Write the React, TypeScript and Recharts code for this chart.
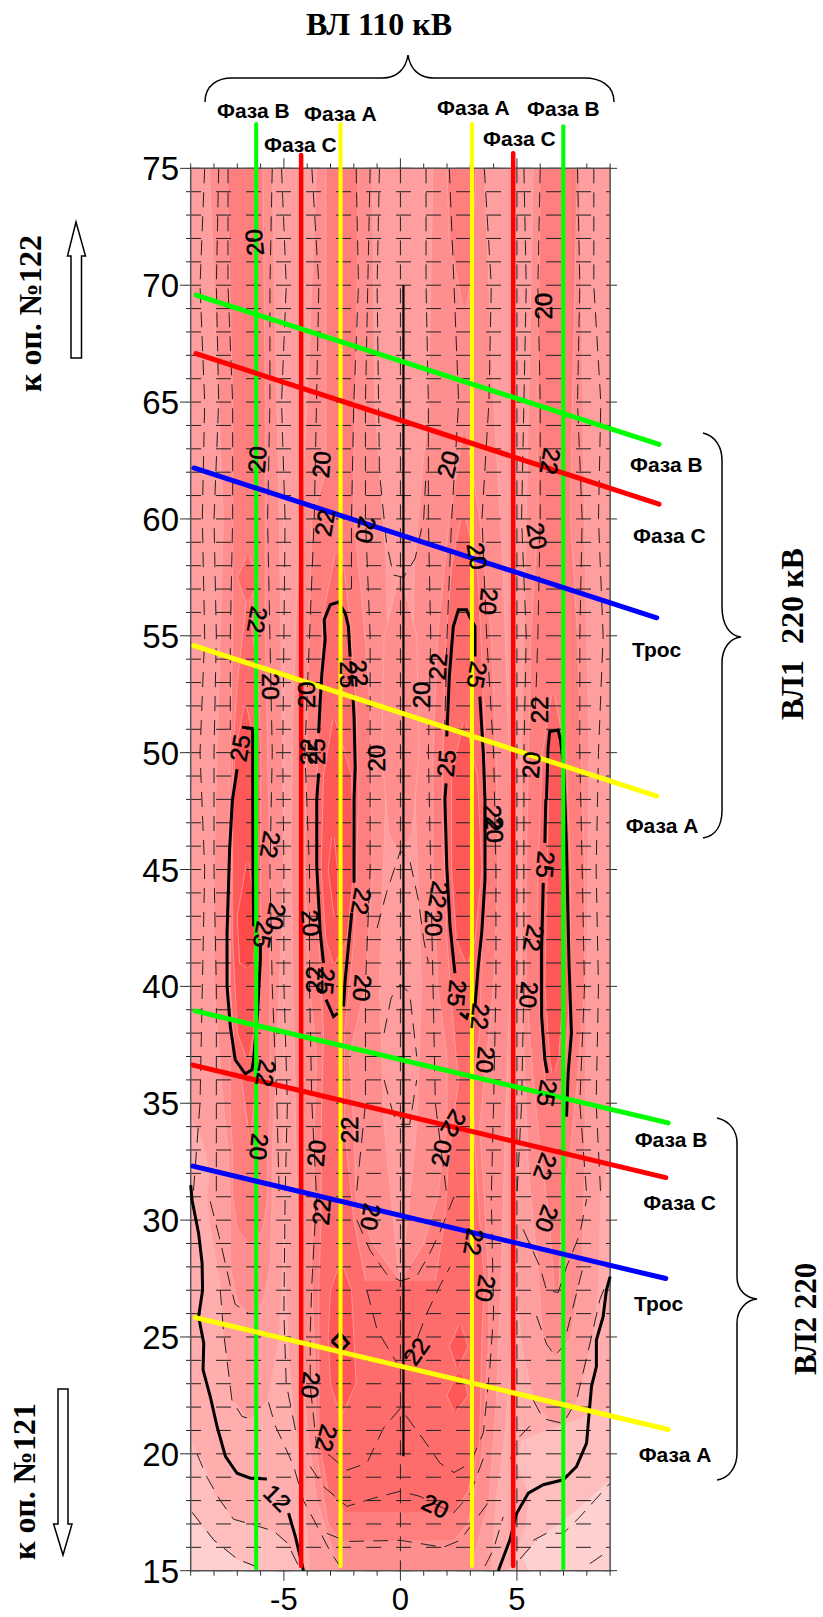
import React from "react";
import { ComposedChart, Area, Line, Scatter, XAxis, YAxis } from "recharts";

type Row = [number, number, number];
type Pt = [number, number];
type Lab = [number, number, string, number];

const yInts: number[] = [];
for (let v = 15; v <= 75; v++) yInts.push(v);
const xInts = [-9,-8,-7,-6,-5,-4,-3,-2,-1,0,1,2,3,4,5,6,7,8,9];
const xMajor = [-5, 0, 5];

// ---- filled bands: [y, left x, right x]
const C0 = "#FFD0D0", C1 = "#FFBEBE", C2 = "#FFADAD", C3 = "#FF9E9E", C4 = "#FF8E8E", C5 = "#FF7F7F", C6 = "#FF6C6C", C7 = "#FF5858", C8 = "#FF4A4A";

const base: Row[] = [[15,-9,9],[75,-9,9]];
const lvl1: Row[] = [[15,-6,5.5],[15.5,-7,5.2],[16.3,-8,5.8],[17.5,-9,7.4],[18.9,-9,9],[75,-9,9]];
const lvl2: Row[] = [[15,-4.2,4.6],[16.2,-4.9,5.1],[16.8,-5.6,5.3],[17.2,-7.16,5.4],[18.3,-8,5.5],[19.6,-8.44,5],[20.6,-9,5.2],[22,-9,9],[75,-9,9]];
const lvl3L: Row[] = [[21.5,-6.5,-6.4],[22.3,-7.2,-5.7],[25,-7.6,-5.2],[27,-7.7,-5.1],[30,-8.2,-5],[31,-8.3,-5],[32,-8.2,-5],[33.4,-8.5,-5],[34.4,-9,-5],[75,-9,-5]];
const lvl3C: Row[] = [[15,-3.9,3.9],[18,-4.1,4.1],[21,-4.5,4.5],[24,-4.8,4.7],[30,-5,5],[75,-5,5]];
const lvl3R: Row[] = [[21.3,6.5,6.9],[22.3,5.7,7.6],[24.7,5.2,8.2],[27,5,8.5],[31,5,8.6],[33,5,9],[75,5,9]];
const lvl4a: Row[] = [[27,-4.3,0],[30,-4.4,-0.3],[34,-4.5,-0.7],[40,-4.6,-0.9],[46,-4.7,-0.7],[52,-4.6,-0.5],[58,-4.4,-0.6],[65,-4,-1.1],[75,-3.6,-1.2]];
const lvl4b: Row[] = [[27,0,4.3],[30,0.3,4.4],[34,0.7,4.5],[40,0.9,4.7],[46,0.7,4.8],[52,0.5,4.6],[58,0.6,4.4],[65,1.2,4],[75,1.4,3.6]];
const lvl4c: Row[] = [[45.8,-0.05,0.05],[46.5,-0.5,0.5],[50,-0.8,0.8],[55,-0.7,0.7],[57.5,-0.05,0.05]];
const lvl4d: Row[] = [[15,-2.6,3],[18,-3.6,3.8],[22,-4.1,4.1],[27,-4.3,4.3]];
const lvl4L: Row[] = [[26,-6.5,-6.4],[26.5,-7,-5.9],[28,-7.3,-5.6],[31,-7.3,-5.5],[33,-7.4,-5.5],[35,-7.6,-5.4],[40,-8,-5.2],[45,-8,-5],[60,-7.6,-5.2],[75,-8.2,-5.5]];
const lvl4R: Row[] = [[24.2,6.6,6.7],[25,6.1,7.3],[28,5.9,7.8],[32,5.5,7.9],[40,5.2,8],[50,5.2,8.1],[60,5.4,7.9],[75,5.7,7.7]];
const lvl5Lc: Row[] = [[29,-6.5,-6.4],[29.6,-7,-5.9],[31,-7.2,-5.7],[33,-7.2,-5.7],[34.5,-7.3,-5.6],[38,-7.3,-5.6],[45,-7.4,-5.6],[55,-7.2,-5.8],[65,-7.2,-5.8],[75,-7.45,-5.9]];
const lvl5a: Row[] = [[27.4,-3.8,0],[29,-3.8,-1.2],[31,-3.7,-1.9],[34,-3.7,-2],[37,-3.6,-2.2],[40,-3.9,-1.5],[45,-4.1,-1.2],[52,-4,-1.3],[56,-3.9,-1.6],[60,-3.8,-2],[62,-3.2,-2],[66,-3.2,-1.9],[75,-3.2,-1.8]];
const lvl5b: Row[] = [[27.4,0,3.8],[29,1,3.7],[31,1.6,3.6],[34,2,3.4],[37,2,3.7],[40,1.6,4],[45,1.4,4.2],[50,1.4,4.1],[55,1.6,3.9],[60,2.1,3.4],[63.8,2.7,2.8]];
const lvl5bTop: Row[] = [[69,2.7,2.8],[70,2.5,3],[72,2.1,3.1],[75,2,3.25]];
const lvl5d: Row[] = [[16.3,-2.6,2.3],[17,-3.1,2.9],[20,-3.6,3.5],[25,-3.7,3.8],[27.4,-3.8,3.8]];
const lvl5R: Row[] = [[27,6.6,6.8],[30,6.4,6.9],[33,6,7.3],[36,5.7,7.6],[40,5.4,7.9],[45,5.4,7.9],[55,5.6,7.6],[60,5.9,7.3],[66,5.9,7.4],[75,6,7.6]];
const lvl6c: Row[] = [[17.5,-2.4,2.3],[18.4,-3.1,2.9],[20.5,-3.5,3.4],[25,-3.5,3.5],[27.4,-3.5,3.6]];
const lvl6L: Row[] = [[33.7,-6.5,-6.4],[35.9,-6.8,-6.2],[37,-7.1,-6.2],[40,-7.3,-6],[45,-7.25,-6],[50,-7.2,-6],[53,-7,-6.1],[56.5,-6.6,-6.5]];
const lvl6L2: Row[] = [[56.6,-6.7,-6.4],[57.5,-7,-6.1],[58.4,-6.6,-6.5]];
const lvl6a: Row[] = [[27.4,-3.5,-1.5],[30,-3.4,-2],[34,-3.4,-2.4],[38,-3.3,-2.4],[42,-3.5,-2],[48,-3.6,-1.8],[52,-3.5,-1.9],[56,-3.3,-2.2],[58.5,-2.8,-2.5]];
const lvl6b: Row[] = [[27.4,1.5,3.6],[30,1.9,3.4],[33,2.1,3.2],[36,2.5,3.1],[38,2.3,3.4],[42,2,3.5],[48,1.8,3.7],[54,1.9,3.5],[58,2.2,3.3],[60,2.6,2.8]];
const lvl6R: Row[] = [[36,6.2,7],[40,5.9,7.3],[45,5.9,7.3],[50,6.1,7.1],[52.5,6.5,6.6]];
const lvl7L: Row[] = [[36.9,-6.6,-6.5],[38,-7,-6.3],[42,-7.2,-6.2],[46,-7.2,-6.1],[48,-7.2,-6.2],[50,-7.1,-6.2],[52,-6.7,-6.6]];
const lvl7a: Row[] = [[41,-2.9,-2.8],[42,-3.2,-2.3],[45,-3.4,-2],[49,-3.3,-2.1],[51.4,-2.9,-2.8]];
const lvl7b: Row[] = [[41,2.8,2.9],[42,2.4,3.2],[45,2.2,3.5],[49,2.2,3.3],[51.3,2.7,2.8]];
const lvl7R: Row[] = [[36.3,6.5,6.6],[37,6.4,6.8],[40,6.2,7],[45,6.3,7],[51,6.4,6.9]];
const lvl7c1: Row[] = [[21.7,-2.6,-2.5],[23,-3,-1.9],[25,-3.1,-2],[27,-3,-2.1],[28.15,-2.6,-2.5]];
const lvl7c2: Row[] = [[21.8,2.3,2.4],[22.5,2,2.9],[23.4,2.4,2.7]];
const lvl7c3: Row[] = [[23.7,2.4,2.5],[24.6,2.1,2.9],[25.5,2.5,2.6]];
const lvl8L: Row[] = [[40.8,-6.6,-6.5],[41,-6.9,-6.3],[43,-7,-6.2],[45.3,-6.6,-6.5]];
const lvl8a: Row[] = [[43,-2.85,-2.7],[45,-3.1,-2.7],[46.4,-2.95,-2.85]];

const bands: [Row[], string][] = [
  [base, C0],[lvl1, C1],[lvl2, C2],[lvl3L, C3],[lvl3C, C3],[lvl3R, C3],
  [lvl4a, C4],[lvl4b, C4],[lvl4c, C4],[lvl4d, C4],[lvl4L, C4],[lvl4R, C4],
  [lvl5Lc, C5],[lvl5a, C5],[lvl5b, C5],[lvl5bTop, C5],[lvl5d, C5],[lvl5R, C5],
  [lvl6c, C6],[lvl6L, C6],[lvl6L2, C6],[lvl6a, C6],[lvl6b, C6],[lvl6R, C6],
  [lvl7L, C7],[lvl7a, C7],[lvl7b, C7],[lvl7R, C7],[lvl7c1, C7],[lvl7c2, C7],[lvl7c3, C7],[lvl8L, C8],[lvl8a, C8],
];

// ---- thin dashed contours: [x, y]
const lowA: Pt[] = [[-8.16,30.8],[-7.73,29.1],[-7.3,27.2],[-7.09,26.4],[-6.51,26]];
const lowB: Pt[] = [[-7.73,27],[-7.59,25.2],[-7.23,22.3],[-6.8,21.6],[-6.44,21.5]];
const lowC: Pt[] = [[-8.73,20],[-8.3,19],[-7.73,18],[-7.16,17.2],[-6.44,17],[-5.44,16.7],[-4.87,16.2],[-4.37,15.2]];
const lowD: Pt[] = [[-8.94,17.5],[-8,16.3],[-7,15.5],[-6,15.1]];
const lowE: Pt[] = [[-5.66,22.2],[-5.37,21.2],[-5.09,20.6],[-4.59,19.5],[-4.16,18],[-3.73,17.2],[-3,15.8],[-2.6,15.2]];
const lowG: Pt[] = [[-3.6,31],[-3.8,27.3],[-3.87,25.2],[-3.87,22.9],[-3.59,20.3],[-3,19.9],[-2.3,19.3],[-1.44,19.6],[-0.73,21.1],[0,21.95],[1,20.6],[1.7,19.6],[2.3,19.2],[3,19.6],[3.56,20.9],[3.84,23.7],[4,26],[3.9,31]];
const lowH: Pt[] = [[-1.87,30],[-1.3,28.7],[-0.6,27.7],[0,27.4],[0.7,27.6],[1.27,28.6],[1.7,29.5],[2.3,31]];
const lowI: Pt[] = [[-1.44,27],[-1,25.3],[-0.16,23.9],[0,23.7],[0.56,24.5],[1.13,26],[1.7,27.2],[2.13,28]];
const lowJ: Pt[] = [[-3.87,19.46],[-3.3,18.6],[-2.3,17.75],[-1.16,18.1],[0,18.4],[0.84,18.18],[2.27,17.46],[3,18.3],[3.63,20]];
const lowK: Pt[] = [[-3.16,16.6],[-2.3,16.25],[0,16.3],[1.84,16],[2.56,16.3],[3.84,18]];
const lowL: Pt[] = [[3.63,15.2],[3.99,15.9],[4.41,17.3]];
const lowM: Pt[] = [[5.7,16.3],[6.27,16.6],[6.99,16.6],[7.7,17.3],[9,18.75]];
const lowN: Pt[] = [[5.13,15.5],[5.84,16.3]];
const lowO: Pt[] = [[8.13,15.3],[9,15.9]];
const lowP: Pt[] = [[5.56,21.2],[4.99,20.6],[4.7,19.7]];
const lowQ: Pt[] = [[5.27,29.6],[5.99,28],[6.27,27],[6.77,26.9],[7.13,28],[7.7,29.4],[7.99,30.9]];
const lowR: Pt[] = [[5.7,22.3],[6.13,21.5],[6.99,21.3],[7.56,22.3],[8.13,24.7],[8.56,26.6],[8.84,27.3]];
const lowS: Pt[] = [[5.84,25.9],[6.27,24.7],[6.63,24.2],[6.99,24.6],[7.84,28]];
const up1: Pt[] = [[-8.4,75],[-8.6,70],[-8.4,65],[-8.5,60],[-8.4,55],[-8.6,50],[-8.4,45],[-8.5,40],[-8.6,35],[-8.9,31]];
const up2: Pt[] = [[-7.8,75],[-7.9,70],[-7.8,65],[-8,60],[-7.9,55],[-8,50],[-8,45],[-7.9,40],[-7.9,35],[-7.9,31]];
const up3: Pt[] = [[-7.4,75],[-7.4,70],[-7.2,65],[-7.2,60],[-7.3,55],[-7.3,51]];
const up4: Pt[] = [[-5.5,75],[-5.6,70],[-5.6,65],[-5.7,60],[-5.6,55],[-5.5,50],[-5.6,45],[-5.5,40],[-5.3,35],[-5.2,31]];
const up6: Pt[] = [[-3.8,75],[-3.5,70],[-3.6,65],[-3.7,60],[-3.9,55],[-4.1,50],[-3.9,45],[-3.9,40],[-3.8,35],[-3.6,31]];
const up7: Pt[] = [[-1.9,75],[-1.8,70],[-2,65],[-2.1,60],[-2.1,57]];
const up8: Pt[] = [[-1.3,75],[-1.4,70],[-1.5,65],[-1.5,60],[-1.3,55],[-1.3,50],[-1.3,45],[-1.5,40],[-1.5,35],[-1.9,31]];
const up9: Pt[] = [[-0.9,75],[-1,70],[-0.9,62],[-0.6,59],[-0.3,57.6],[0.13,57.5],[0.63,58.3],[1,60],[1.1,62]];
const lobe2: Pt[] = [[-1,42.5],[-0.6,44],[0,45.8],[0.4,45.4],[0.77,43.7],[1,42],[1.2,41]];
const lobe3: Pt[] = [[-0.7,38],[-0.4,39.5],[0,40.1],[0.4,39.7],[0.7,37]];
const lobe4: Pt[] = [[-0.7,36],[-0.3,34.5],[0,34.1],[0.4,34.1],[0.7,36]];
const up10: Pt[] = [[1.1,75],[1.1,70],[1.2,65],[1.2,60],[1.3,55],[1.2,50],[1.3,45],[1.4,40],[1.5,35],[2,31]];
const up11: Pt[] = [[2.1,75],[2.3,70],[2.5,65],[2.2,60],[2,55],[1.9,51]];
const up12: Pt[] = [[3.6,75],[3.9,70],[3.8,65],[3.5,60],[3.7,55],[4,50],[4.1,45],[4.1,40],[4,35],[3.9,31]];
const up13: Pt[] = [[5.3,75],[5.4,70],[5.3,65],[5.2,60],[5.4,55],[5.3,50],[5.3,45],[5.3,40],[5.2,35],[5,31]];
const up14: Pt[] = [[6,75],[5.9,70],[6,65],[6,60],[5.9,55],[5.8,52]];
const up15: Pt[] = [[7.6,75],[7.7,70],[7.6,65],[7.8,60],[7.7,55],[7.7,50],[7.8,45],[7.9,40],[7.7,35],[8,31]];
const up16: Pt[] = [[8.3,75],[8.3,70],[8.6,65],[8.5,60],[8.7,55],[8.5,50],[8.4,45],[8.5,40],[8.4,35],[8.6,31]];
const gridM5: Pt[] = [[-5.1,75],[-4.9,70],[-5.1,65],[-4.95,60],[-5,55],[-5.05,50],[-5,45],[-5,40],[-4.85,35],[-4.95,31],[-5,26],[-4.9,23],[-4.5,21]];
const grid0: Pt[] = [[0,75],[0,15]];
const grid5: Pt[] = [[5,75],[5,15]];
const thinLines: Pt[][] = [lowA,lowB,lowC,lowD,lowE,lowG,lowH,lowI,lowJ,lowK,lowL,lowM,lowN,lowO,lowP,lowQ,lowR,lowS,up1,up2,up3,up4,up6,up7,up8,up9,lobe2,lobe3,lobe4,up10,up11,up12,up13,up14,up15,up16,gridM5,grid0,grid5];

// ---- thick solid contours
const outerL1: Pt[] = [[-9,31.5],[-8.94,30.85],[-8.66,29.43],[-8.51,28.15],[-8.49,27],[-8.66,25.87],[-8.44,24.73],[-8.47,23.59],[-8.16,22.45],[-7.87,21.17],[-7.51,19.89],[-7.01,19.17],[-6.44,18.96],[-5.73,18.92]];
const outerL2: Pt[] = [[-4.8,17.46],[-4.51,16.47],[-4.16,15]];
const outerR: Pt[] = [[4.2,15],[4.7,16.32],[4.99,17.46],[5.49,18.32],[6.13,18.68],[6.99,18.89],[7.56,19.46],[7.99,20.46],[8.1,21.74],[8.2,22.88],[8.41,23.73],[8.41,24.87],[8.7,25.87],[8.84,27],[9,27.58]];
const loopA1: Pt[] = [[-7.01,49.29],[-7.21,47.97],[-7.33,45.86],[-7.44,42.29],[-7.44,40],[-7.3,38.29],[-7.09,36.86],[-6.66,36.26],[-6.37,36.43],[-6.3,36.86],[-6.13,38.86],[-6.01,41.14],[-6.01,41.86]];
const loopA2: Pt[] = [[-6.3,42.57],[-6.33,45.86],[-6.34,50.83],[-6.37,51.04],[-6.8,51.09]];
const loopB1: Pt[] = [[-3.51,50.83],[-3.44,52.26],[-3.37,53.4],[-3.23,54.83],[-3.27,55.69],[-3.01,56.33],[-2.66,56.44],[-2.37,55.97],[-2.23,55.4],[-2.16,54.11]];
const loopB2: Pt[] = [[-2.04,52.47],[-1.99,51.54],[-1.94,49.4],[-1.99,48],[-1.99,44.43]];
const loopB3: Pt[] = [[-2.09,43.14],[-2.23,41.71],[-2.37,40.29],[-2.44,39.14]];
const loopB4: Pt[] = [[-3.51,49.11],[-3.59,48],[-3.59,45.14],[-3.44,42.29],[-3.3,41]];
const loopB5: Pt[] = [[-3.19,39.43],[-2.87,38.71],[-2.69,38.86]];
const loopC1: Pt[] = [[1.99,50.69],[2.1,53.26],[2.27,55.4],[2.49,56.11],[2.84,56.11],[2.96,55.83],[3.2,55.4],[3.2,54.11]];
const loopC2: Pt[] = [[3.41,52.4],[3.56,49.97],[3.63,47.97],[3.63,44.57],[3.49,42.29],[3.34,40.86],[3.2,39.14]];
const loopC3: Pt[] = [[1.96,48.69],[1.91,48],[1.99,45.14],[2.13,42.57],[2.34,40.57]];
const loopC4: Pt[] = [[2.56,38.86],[2.84,38.64],[2.91,38.86]];
const loopD1: Pt[] = [[6.27,47.97],[6.34,50.26],[6.41,50.9],[6.77,50.97],[6.87,50.54],[7.01,49.4],[7.13,45.86],[7.24,40.86],[7.34,38],[7.2,36.29],[7.13,34.43]];
const loopD2: Pt[] = [[6.24,48],[6.2,46.14]];
const loopD3: Pt[] = [[6.13,44.43],[6.06,41.57],[6.06,38.71],[6.2,36.86],[6.3,36.29]];
const diamond: Pt[] = [[-2.94,24.8],[-2.59,25.16],[-2.23,24.73],[-2.51,24.44],[-2.94,24.8]];
const thickLines: Pt[][] = [outerL1,outerL2,outerR,loopA1,loopA2,loopB1,loopB2,loopB3,loopB4,loopB5,loopC1,loopC2,loopC3,loopC4,loopD1,loopD2,loopD3,diamond];

// ---- wires
const GREEN = "#00FF00", RED = "#FF0000", YELLOW = "#FFFF00", BLUE = "#0000FF";
const vGreen1: Pt[] = [[-6.19,76.9],[-6.19,15.1]];
const vRed1: Pt[] = [[-4.26,75.57],[-4.26,15.2]];
const vYel1: Pt[] = [[-2.57,76.9],[-2.57,15.2]];
const vYel2: Pt[] = [[3.07,76.9],[3.07,15.2]];
const vRed2: Pt[] = [[4.84,75.65],[4.84,15.2]];
const vGreen2: Pt[] = [[6.99,76.8],[6.99,15.1]];
const centerLine: Pt[] = [[0.13,70],[0.13,19.9]];
const wG1: Pt[] = [[-8.77,69.58],[11.1,63.19]];
const wR1: Pt[] = [[-8.77,67.07],[11.1,60.63]];
const wB1: Pt[] = [[-8.86,62.18],[11,55.77]];
const wY1: Pt[] = [[-8.86,54.58],[11,48.14]];
const wG2: Pt[] = [[-8.81,38.95],[11.49,34.16]];
const wR2: Pt[] = [[-8.9,36.63],[11.39,31.82]];
const wB2: Pt[] = [[-8.9,32.31],[11.39,27.5]];
const wY2: Pt[] = [[-8.8,25.83],[11.5,21.04]];
const wires: [Pt[], string, number][] = [
  [vGreen1,GREEN,4],[vRed1,RED,4.5],[vYel1,YELLOW,4],[vYel2,YELLOW,4],[vRed2,RED,4.5],[vGreen2,GREEN,4],
  [wG1,GREEN,5],[wR1,RED,5],[wB1,BLUE,5],[wY1,YELLOW,5],[wG2,GREEN,5],[wR2,RED,5],[wB2,BLUE,5],[wY2,YELLOW,5],
];

// ---- frame of the map
const frame: Pt[] = [[-9,15],[9,15],[9,75],[-9,75],[-9,15]];
const rightMajor = [15,20,25,30,35,40,45,50,55,60,65,70,75];

// ---- contour labels: x, y, text, rotation
const contourLabels: Lab[] = [
  [-6.25,71.83,"20",-95],[6.18,69.1,"20",-90],[-6.13,62.54,"20",-85],[-3.37,62.33,"20",-85],[-3.23,59.83,"22",-80],[-1.51,59.54,"20",100],
  [2.06,62.33,"20",-75],[6.41,62.47,"22",100],[5.84,59.26,"20",80],[3.27,58.4,"20",80],[3.76,56.47,"20",95],[-6.16,55.69,"22",100],
  [-5.59,52.83,"20",90],[-4.01,52.47,"20",-90],[-1.8,53.4,"22",85],[-2.23,53.33,"25",90],[3.27,53.33,"25",100],[1.63,53.69,"22",-85],
  [0.91,52.47,"20",-90],[5.99,51.83,"22",-90],[-6.87,50.19,"25",-80],[-3.94,50.04,"22",-90],[-3.59,50.04,"25",-90],[-1.01,49.76,"20",-90],
  [1.99,49.54,"25",-85],[5.63,49.47,"20",-85],[3.91,47.2,"22",90],[4,46.71,"20",90],[6.2,45.21,"25",95],[-5.6,46.07,"22",100],
  [-5.37,43,"20",100],[-5.9,42.21,"25",100],[-3.87,42.71,"20",85],[-1.7,43.64,"22",100],[1.63,43.93,"22",100],[1.41,42.71,"20",90],
  [5.7,42.07,"22",100],[5.49,39.64,"20",95],[-3.66,40.29,"22",-90],[-3.23,40.21,"25",95],[-1.66,39.93,"20",95],[2.41,39.71,"25",95],
  [3.4,38.71,"22",95],[3.63,36.86,"20",95],[-5.8,36.29,"22",100],[6.27,35.43,"25",100],[-6.09,33.14,"20",95],[-3.59,32.86,"20",-85],
  [-2.16,33.86,"22",-90],[2.27,34.14,"22",120],[1.77,32.86,"20",-80],[6.2,32.29,"22",110],[-3.37,30.36,"22",-85],[-1.3,30.14,"20",100],
  [6.27,30.07,"20",110],[3.13,29.07,"22",100],[3.63,27.08,"20",100],[0.7,24.37,"22",-55],[-3.87,22.95,"20",95],[-3.19,20.67,"22",105],
  [1.49,17.75,"20",25],[-5.3,18.1,"12",45],
];

// ---- annotations
const topPhases: [string, number, number][] = [["Фаза В",217,118],["Фаза А",304,120.7],["Фаза С",264,151.7],["Фаза А",437,115],["Фаза В",527,115.7],["Фаза С",483,145.7]];
const rightPhases: [string, number, number][] = [["Фаза В",630,471.7],["Фаза С",633,542.7],["Трос",632,656.7],["Фаза А",625.7,832.7],["Фаза В",634.7,1147.3],["Фаза С",643.3,1210],["Трос",634,1310.7],["Фаза А",638.7,1462.3]];

const W = 823, H = 1617;
const sans = "'Liberation Sans', Arial, sans-serif";
const serif = "'Liberation Serif', 'Times New Roman', serif";
const toPts = (a: Pt[]) => a.map(([x, y]) => ({ x, y }));
// plot area runs past the map so the wires and row dashes that leave the map stay on the same scales
const XMIN = -9.2, XMAX = 11.6, YMAX = 77;
const PX_LEFT = 186.04, PX_RIGHT = 670.7, PX_TOP = 121.6, PX_BOTTOM = 1570.7;

const LeftTick = (p: any) => {
  const v = p.payload.value, major = v % 5 === 0;
  if (!major) return <g />;
  return (
    <g>
      <line x1={p.x} x2={p.x - 6} y1={p.y} y2={p.y} stroke="#333" strokeWidth={1} />
      {major && <text x={p.x - 7} y={p.y + 12} textAnchor="end" fontFamily={sans} fontSize={33} fill="#000">{v}</text>}
    </g>
  );
};
const BottomTick = (p: any) => {
  const v = p.payload.value, major = xMajor.includes(v);
  return (
    <g>
      <line x1={p.x} x2={p.x} y1={p.y} y2={p.y + (major ? 10 : 5)} stroke="#333" strokeWidth={1} />
      {major && <text x={p.x} y={p.y + 39} textAnchor="middle" fontFamily={sans} fontSize={31} fill="#000">{v}</text>}
    </g>
  );
};
const LabelShape = (p: any) => (
  <text transform={`translate(${p.cx},${p.cy}) rotate(${p.payload.rot})`} textAnchor="middle" dy={8} fontFamily={sans} fontSize={24} fill="#000" stroke="#000" strokeWidth={0.5}>{p.payload.text}</text>
);
const seg = (key: string, pts: Pt[], stroke: string, w: number, dash?: string, cap?: any) => (
  <Line key={key} data={toPts(pts)} dataKey="x" stroke={stroke} strokeWidth={w} strokeDasharray={dash} strokeLinecap={cap} dot={false} activeDot={false} isAnimationActive={false} />
);

export default function App() {
  return (
    <div style={{ position: "absolute", left: 0, top: 0, width: W, height: H, background: "#fff" }}>
      <ComposedChart layout="vertical" width={W} height={H} margin={{ left: PX_LEFT - 60, right: W - PX_RIGHT, top: PX_TOP, bottom: 0 }}>
        <XAxis type="number" dataKey="x" domain={[XMIN, XMAX]} ticks={xInts} interval={0} height={H - PX_BOTTOM} tickLine={false} tickSize={0} tickMargin={0} tick={BottomTick} axisLine={false} />
        <YAxis type="number" dataKey="y" domain={[15, YMAX]} ticks={yInts} interval={0} width={60} reversed tickLine={false} tickSize={0} tickMargin={0} tick={LeftTick} axisLine={false} />
        {bands.map(([rows, color], i) => (
          <Area key={"b" + i} data={rows.map(([y, l, r]) => ({ y, r: [l, r] }))} dataKey="r" type="linear" fill={color} fillOpacity={1} stroke="#FFB4B4" strokeWidth={0.6} dot={false} activeDot={false} isAnimationActive={false} />
        ))}
        {yInts.map((v) => seg("h" + v, [[-9.2, v], [9, v]], "#222", 1, "15 15"))}
        {thinLines.map((pts, i) => seg("t" + i, pts, "#222", 1, "15 9"))}
        {seg("frame", frame, "#555", 1.5)}
        {xInts.map((v) => seg("tx" + v, [[v, 75], [v, xMajor.includes(v) ? 75.43 : 75.21]], "#333", 1))}
        {rightMajor.map((v) => seg("ty" + v, [[9, v], [9.3, v]], "#333", 1))}
        {thickLines.map((pts, i) => seg("k" + i, pts, "#000", 3))}
        {seg("center", centerLine, "#000", 2.2)}
        {wires.map(([pts, c, w], i) => seg("w" + i, pts, c, w, undefined, "round"))}
        <Scatter data={contourLabels.map(([x, y, text, rot]) => ({ x, y, text, rot }))} dataKey="x" shape={LabelShape} isAnimationActive={false} />
      </ComposedChart>
      <svg width={W} height={H} style={{ position: "absolute", left: 0, top: 0, pointerEvents: "none" }}>
        <text x={306} y={35} fontFamily={serif} fontWeight="bold" fontSize={32}>ВЛ 110 кВ</text>
        <path d="M205,102 C205,85 218,78 232,78 L382,78 C398,78 406,68 408,55 C410,68 418,78 434,78 L584,78 C600,78 614,85 614,102" fill="none" stroke="#000" strokeWidth={1.5} />
        <path d="M703,433 C716,436 722,448 722,460 L722,607 C722,625 730,636 741,637 C730,638 722,648 722,663 L722,810 C722,825 716,836 703,838" fill="none" stroke="#000" strokeWidth={1.5} />
        <path d="M717,1118 C730,1121 737,1131 737,1143 L737,1277 C737,1290 746,1298 757,1299 C746,1300 737,1310 737,1323 L737,1453 C737,1466 730,1478 717,1480" fill="none" stroke="#000" strokeWidth={1.5} />
        {[...topPhases, ...rightPhases].map(([t, x, y], i) => (
          <text key={i} x={x} y={y} fontFamily={sans} fontWeight="bold" fontSize={21}>{t}</text>
        ))}
        <text transform="translate(803,720) rotate(-90)" fontFamily={serif} fontWeight="bold" fontSize={32} xmlSpace="preserve">ВЛ1  220 кВ</text>
        <text transform="translate(816,1375) rotate(-90)" fontFamily={serif} fontWeight="bold" fontSize={31}>ВЛ2 220</text>
        <text transform="translate(41,392) rotate(-90)" fontFamily={serif} fontWeight="bold" fontSize={32}>к оп. №122</text>
        <text transform="translate(35,1560) rotate(-90)" fontFamily={serif} fontWeight="bold" fontSize={32}>к оп. №121</text>
        <path d="M76,222 L85.5,256 L81.5,256 L81.5,358 L71,358 L71,256 L67.5,256 Z" fill="#fff" stroke="#000" strokeWidth={1.5} />
        <path d="M63,1555 L72,1524 L68,1524 L68,1389 L58,1389 L58,1524 L53.6,1524 Z" fill="#fff" stroke="#000" strokeWidth={1.5} />
      </svg>
    </div>
  );
}
